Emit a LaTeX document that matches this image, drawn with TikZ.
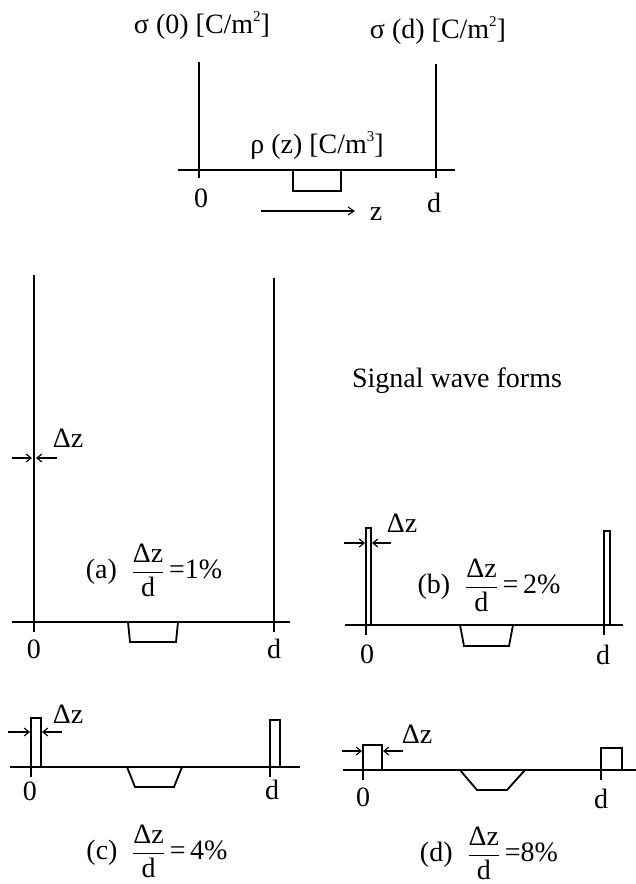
\documentclass[tikz,border=0pt]{standalone}
\usepackage{fontspec}
\setmainfont{Liberation Serif}
\usepackage{amsmath}
\usetikzlibrary{arrows.meta}

\newcommand{\dzfrac}{$\dfrac{\text{Δz}}{\text{d}}$}
\newcommand{\smsup}[1]{\raisebox{0.42em}{\fontsize{15}{15}\selectfont #1}}

\tikzset{
  plate/.style = {line width=1.8pt},
  dim/.style   = {-{Straight Barb[length=5pt,width=8pt]}, line width=1.1pt},
  lbl/.style   = {font=\fontsize{28}{32}\selectfont, inner sep=0pt},
}

\begin{document}
\begin{tikzpicture}[x=1pt, y=-1pt]
\useasboundingbox (0,0) rectangle (636,884);

% charge distribution sketch
\draw[plate] (178,170) -- (455,170);
\draw[plate] (199,62) -- (199,178);
\draw[plate] (436,64) -- (436,178);
\draw[plate] (293,170) -- (293,191) -- (341,191) -- (341,170);
\node[lbl, anchor=base] (sig0) at (202,33) {σ (0) [C/m\smsup{2}]};
\node[lbl, anchor=base] (sigd) at (438,38) {σ (d) [C/m\smsup{2}]};
\node[lbl, anchor=base] (rho) at (317,153) {ρ (z) [C/m\smsup{3}]};
\node[lbl, anchor=base] (zero) at (201,207) {0};
\node[lbl, anchor=base] (dd) at (434,212) {d};
\coordinate (zs) at (261,211);
\coordinate (ze) at (355,211);
\node[lbl, anchor=base] (zax) at (376,220) {z};
\draw[-{Straight Barb[length=6pt,width=8pt]}, line width=1.1pt] (zs) -- (ze);

\node[lbl, anchor=base] (title) at (457,387) {Signal wave forms};

% (a) 1%
\draw[plate] (12,622) -- (290,622);
\draw[plate] (34,275) -- (34,632);
\draw[plate] (274,278) -- (274,632);
\draw[plate] (128,622) -- (130,642) -- (176,642) -- (178,622);
\coordinate (a1) at (12,458);  \coordinate (a2) at (57,458);
\draw[dim] (a1) -- (32,458);
\draw[dim] (a2) -- (36,458);
\node[lbl, anchor=base] (dza) at (68,447) {Δz};
\node[lbl] (capa) at (154,570) {(a)\; \dzfrac\,=1\%};
\node[lbl, anchor=base] (za) at (34,658) {0};
\node[lbl, anchor=base] (da) at (274,658) {d};

% (b) 2%
\draw[plate] (345,625) -- (623,625);
\draw[plate] (366,635) -- (366,528) -- (371,528) -- (371,625);
\draw[plate] (604,635) -- (604,531) -- (610,531) -- (610,625);
\draw[plate] (460,625) -- (464,646) -- (509,646) -- (513,625);
\coordinate (b1) at (344,543);  \coordinate (b2) at (391,543);
\draw[dim] (b1) -- (365,543);
\draw[dim] (b2) -- (372,543);
\node[lbl, anchor=base] (dzb) at (402,532) {Δz};
\node[lbl] (capb) at (489,585) {(b)\; \dzfrac\,=\,2\%};
\node[lbl, anchor=base] (zb) at (367,663) {0};
\node[lbl, anchor=base] (db) at (603,664) {d};

% (c) 4%
\draw[plate] (10,767) -- (300,767);
\draw[plate] (31,777) -- (31,718) -- (41,718) -- (41,767);
\draw[plate] (270,777) -- (270,720) -- (280,720) -- (280,767);
\draw[plate] (127,767) -- (135,787) -- (174,787) -- (182,767);
\coordinate (c1) at (8,732);  \coordinate (c2) at (62,732);
\draw[dim] (c1) -- (30,732);
\draw[dim] (c2) -- (42,732);
\node[lbl, anchor=base] (dzc) at (68,723) {Δz};
\node[lbl] (capc) at (157,851) {(c)\; \dzfrac\,=\,4\%};
\node[lbl, anchor=base] (zc) at (30,800) {0};
\node[lbl, anchor=base] (dc) at (272,799) {d};

% (d) 8%
\draw[plate] (343,770) -- (636,770);
\draw[plate] (363,780) -- (363,745) -- (382,745) -- (382,770);
\draw[plate] (601,780) -- (601,748) -- (622,748) -- (622,770);
\draw[plate] (460,770) -- (477,790) -- (507,790) -- (525,770);
\coordinate (d1) at (342,751);  \coordinate (d2) at (403,751);
\draw[dim] (d1) -- (362,751);
\draw[dim] (d2) -- (383,751);
\node[lbl, anchor=base] (dzd) at (417,743) {Δz};
\node[lbl] (capd) at (489,853) {(d)\; \dzfrac\,=8\%};
\node[lbl, anchor=base] (zd) at (363,806) {0};
\node[lbl, anchor=base] (dd2) at (601,808) {d};

\end{tikzpicture}
\end{document}
